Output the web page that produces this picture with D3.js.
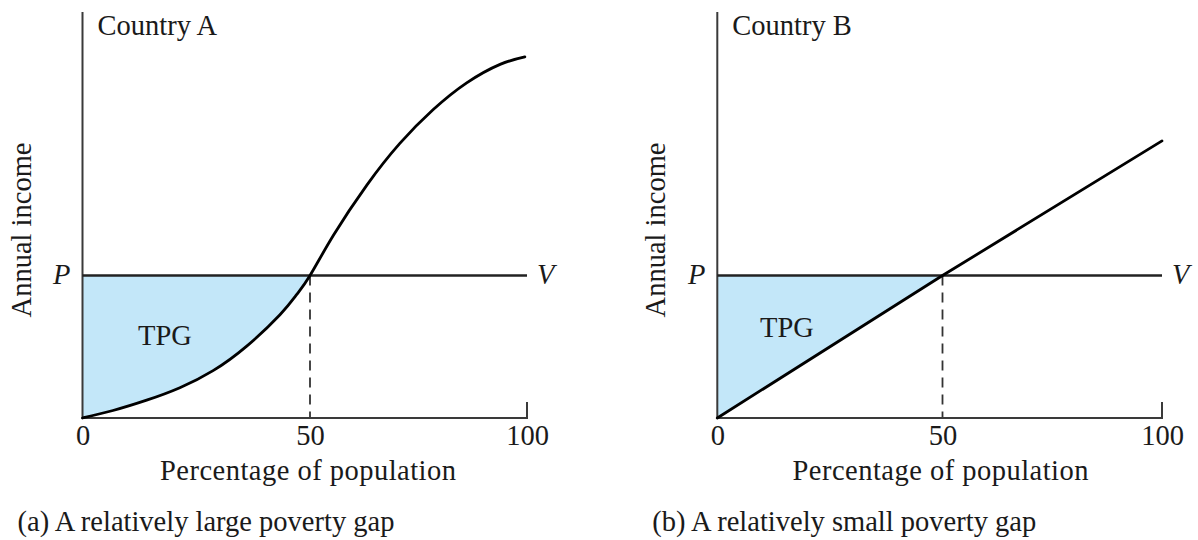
<!DOCTYPE html>
<html>
<head>
<meta charset="utf-8">
<script src="https://cdn.jsdelivr.net/npm/d3@7"></script>
<style>
  html, body { margin: 0; padding: 0; background: #fff; }
  svg { display: block; }
  text { font-family: "Liberation Serif", "Times New Roman", serif; fill: #1a1a1a; }
</style>
</head>
<body>
<svg id="chart" width="1198" height="540"></svg>
<script>
// ---- Data ----
const xTicks = [0, 50, 100];
const povertyLine = 40;           // P (income units)
const incomeMax = 114;            // top of y-axis

// Country A: S-shaped income distribution
const populationA = [0, 6.7, 14.1, 21.4, 28.7, 36.1, 43.4, 47.1, 50, 55.4, 63.1, 70.7, 78.4, 86.1, 93.8, 99.5];
const incomeA     = [0, 2.1, 5.0, 8.5, 13.3, 20.2, 29.0, 34.7, 40, 51.3, 65.4, 77.1, 86.6, 94.1, 99.3, 101.4];

// Country B: linear income distribution
const populationB = [0, 50, 100];
const incomeB     = [0, 40, 77.8];

const panelTitles = ["Country A", "Country B"];
const captions = ["(a) A relatively large poverty gap", "(b) A relatively small poverty gap"];
const xTitle = "Percentage of population";
const yTitle = "Annual income";
const gapLabel = "TPG";

// ---- Drawing ----
const svg = d3.select("#chart");
const FS = 28.5;

function panel(cfg) {
  const { xr, pop, inc, title, caption, curve } = cfg;
  const x = d3.scaleLinear().domain(xTicks).range(xr);
  const y = d3.scaleLinear().domain([0, incomeMax]).range([418, 12]);
  const g = svg.append("g");
  const pts = pop.map((p, i) => [p, inc[i]]);

  // TPG shaded area
  const below = pts.filter(d => d[0] <= 50);
  g.append("path")
    .datum(below)
    .attr("fill", "#c3e7f9")
    .attr("d", d3.area().x(d => x(d[0])).y0(y(povertyLine)).y1(d => y(d[1])).curve(curve));

  // dashed line at 50
  g.append("line")
    .attr("x1", x(50)).attr("x2", x(50))
    .attr("y1", y(povertyLine)).attr("y2", y(0))
    .attr("stroke", "#333").attr("stroke-width", 1.8)
    .attr("stroke-dasharray", "10,7");

  // x-axis
  const xAxis = d3.axisBottom(x).tickValues(xTicks).tickSize(0).tickPadding(10).tickFormat(d3.format("d"));
  const ax = g.append("g").attr("transform", `translate(0,${y(0)})`).call(xAxis);
  ax.select(".domain").remove();
  ax.selectAll("text").attr("font-size", FS).attr("font-family", "Liberation Serif").attr("fill", "#1a1a1a").attr("dy", "0.95em").attr("y", 0);
  g.append("line")
    .attr("x1", x(0)).attr("x2", x(100))
    .attr("y1", y(0)).attr("y2", y(0))
    .attr("stroke", "#3a3a3a").attr("stroke-width", 2);
  g.append("line")
    .attr("x1", x(100)).attr("x2", x(100))
    .attr("y1", y(0) + 1).attr("y2", y(0) - 16)
    .attr("stroke", "#3a3a3a").attr("stroke-width", 2);

  // y-axis
  g.append("line")
    .attr("x1", x(0)).attr("x2", x(0))
    .attr("y1", y(0) + 1).attr("y2", y(incomeMax))
    .attr("stroke", "#3a3a3a").attr("stroke-width", 2);

  // poverty line P–V
  g.append("line")
    .attr("x1", x(0)).attr("x2", x(100))
    .attr("y1", y(povertyLine)).attr("y2", y(povertyLine))
    .attr("stroke", "#222").attr("stroke-width", 2.6);

  // income distribution curve
  g.append("path")
    .datum(pts)
    .attr("fill", "none").attr("stroke", "#000").attr("stroke-width", 2.8)
    .attr("stroke-linecap", "round")
    .attr("d", d3.line().x(d => x(d[0])).y(d => y(d[1])).curve(curve));

  // labels
  g.append("text").attr("x", x(0) - 12).attr("y", y(povertyLine) + 8)
    .attr("text-anchor", "end").attr("font-style", "italic").attr("font-size", FS).text("P");
  g.append("text").attr("x", x(100) + 10).attr("y", y(povertyLine) + 8)
    .attr("text-anchor", "start").attr("font-style", "italic").attr("font-size", FS).text("V");
  g.append("text").attr("x", x(0) + 15).attr("y", 35)
    .attr("font-size", FS).text(title);
  g.append("text").attr("x", cfg.tpg[0]).attr("y", cfg.tpg[1])
    .attr("font-size", FS).text(gapLabel);
  g.append("text").attr("x", x(50) - 2).attr("y", 480)
    .attr("text-anchor", "middle").attr("font-size", FS).attr("textLength", 296).text(xTitle);
  g.append("text")
    .attr("transform", `translate(${x(0) - 52},230) rotate(-90)`)
    .attr("text-anchor", "middle").attr("font-size", FS).text(yTitle);
  g.append("text").attr("x", x(0) - 65).attr("y", 531)
    .attr("font-size", FS).text(caption);
}

panel({ xr: [82.5, 310, 527], pop: populationA, inc: incomeA, title: panelTitles[0], caption: captions[0],
        curve: d3.curveNatural, tpg: [138, 345] });
panel({ xr: [717.3, 942.5, 1162], pop: populationB, inc: incomeB, title: panelTitles[1], caption: captions[1],
        curve: d3.curveLinear, tpg: [760, 337] });
</script>
</body>
</html>
